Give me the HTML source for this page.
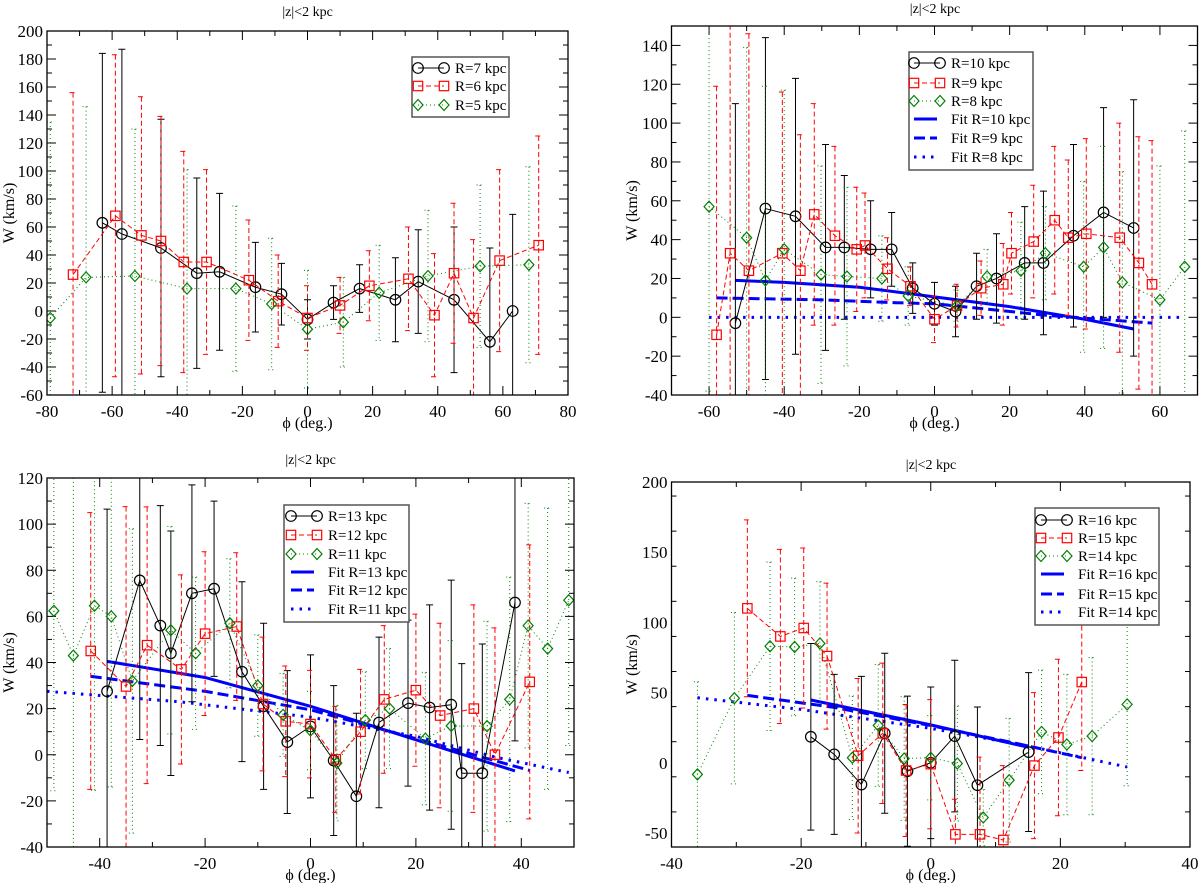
<!DOCTYPE html>
<html><head><meta charset="utf-8"><style>
body{margin:0;background:#fff;}
svg{display:block;font-family:"Liberation Serif",serif;}
</style></head><body>
<svg id="chart" width="1200" height="883" xmlns="http://www.w3.org/2000/svg"></svg>
<script>
// ---------- Panel 1 data ----------
const p1_r7_phi=[-63,-57,-45,-34,-27,-16,-8,0,8,16,27,34,45,56,63];
const p1_r7_w=[63,55,45,27,28,17,12,-6,6,16,8,21,8,-22,0];
const p1_r7_err=[121,132,92,68,56,32,22,14,12,17,30,37,52,67,69];
const p1_r6_phi=[-72,-59,-51,-45,-38,-31,-18,-9,0,10,19,31,39,45,51,59,71];
const p1_r6_w=[26,68,54,50,35,35,22,7,-5,4,18,23,-3,27,-5,36,47];
const p1_r6_err=[130,115,99,89,79,66,43,33,23,20,25,37,44,50,56,65,78];
const p1_r5_phi=[-79,-68,-53,-37,-22,-11,0,11,22,37,53,68];
const p1_r5_w=[-5,24,25,16,16,5,-13,-8,13,25,32,33];
const p1_r5_err=[140,122,105,85,59,47,42,32,34,47,58,70];
// ---------- Panel 2 data ----------
const p2_r10_phi=[-53,-45,-37,-29,-24,-17,-11.4,-5.8,0,5.6,11.2,16.5,24,29,37,45,53];
const p2_r10_w=[-3,56,52,36,36,35,35,15,7,3,16,20,28,28,42,54,46];
const p2_r10_err=[113,88,71,53,37,25,19,13,11,13,17,23,29,37,47,54,66];
const p2_r9_phi=[-58,-54.4,-49.4,-40.5,-35.7,-32,-26.5,-20.7,-18.5,-12.5,-6.4,0,6,12.4,18.3,20.5,26.4,32,35.6,40.4,49.3,54.4,57.9];
const p2_r9_w=[-9,33,24,33,24,53,42,35,37,25,16,-1,6,15,17,33,39,50,41,43,41,28,17];
const p2_r9_err=[128,130,122,83,70,57,46,32,27,16,10,12,11,14,21,21,29,38,40,49,59,65,74];
const p2_r8_phi=[-60,-50,-45,-40,-30.2,-23.3,-14,-7,6,14,23,29.5,39.7,45,50,60,66.6];
const p2_r8_w=[57,41,19,35,22,21,20,11,6,21,24,33,26,36,18,9,26];
const p2_r8_err=[95,98,100,82,56,46,22,15,8,14,25,24,44,52,57,69,70];
const p2_fit10_phi=[-53,-40,-20,0,20,40,53];
const p2_fit10_w=[19,18,15.5,10.5,5.5,-1,-6];
const p2_fit9_phi=[-58,-30,-10,0,30,58];
const p2_fit9_w=[10,9,7.5,7,1,-3];
const p2_fit8_phi=[-60,66];
const p2_fit8_w=[0,0];
// ---------- Panel 3 data ----------
const p3_r13_phi=[-38.6,-32.4,-28.5,-26.5,-22.5,-18.3,-13,-8.9,-4.4,0,4.4,8.7,13,18.5,22.6,26.7,28.7,32.6,38.8];
const p3_r13_w=[27.5,75.6,56,44,70,72,36,21,5.5,12.3,-2.5,-18,14,22.4,20.5,21.7,-8,-8,66];
const p3_r13_err=[79,69,52,53,47,38,39,36,31,31,32.5,36,37,36,44.5,54,47.5,56,60];
const p3_r12_phi=[-41.7,-35,-31,-24.5,-20,-14,-9,-4.7,0,4.8,9.5,14,20,24.6,31,35,41.6];
const p3_r12_w=[45,29.6,47.5,37,52.5,55.6,22,14.5,13.3,-2,10,24,28,17,20,0,31.6];
const p3_r12_err=[60,78,60,41,35.5,32,29,24,23.3,23,27,32,33,40,45,55,59.4];
const p3_r11_phi=[-48.7,-45,-41,-37.8,-33.8,-26.5,-21.8,-15.3,-10,-5.2,0,5,10.4,15,21.8,26.7,33.5,37.8,41.3,45,49];
const p3_r11_w=[62.4,43,64.6,60,32,54,44,57,30,17.3,10.5,-3.6,15,20,7,12.5,12.4,24,56,46,67];
const p3_r11_err=[78,84,80,74,66,45,33,28,22,18,17,25,21,26,28.7,37,45.5,53,53,61,63];
const p3_fit13_phi=[-38.6,-20,0,20,38.8];
const p3_fit13_w=[40.5,33.5,21,6.5,-7];
const p3_fit12_phi=[-41.7,-20,0,20,41.6];
const p3_fit12_w=[34,27.5,19.5,7,-6.8];
const p3_fit11_phi=[-50,-25,0,20,35,49];
const p3_fit11_w=[27.5,23,16.3,8,-1,-7.7];
// ---------- Panel 4 data ----------
const p4_r16_phi=[-18.5,-14.9,-10.7,-7.1,-3.6,0,3.7,7.2,15.1];
const p4_r16_w=[18.5,6,-15.5,21,-6,0,19,-16,7.6];
const p4_r16_err=[66.5,57,77,57,53.5,54,54,55.7,56.6];
const p4_r15_phi=[-28.3,-23.2,-19.6,-16,-11.2,-7.4,-3.8,0,3.8,7.6,11.2,16,19.7,23.3];
const p4_r15_w=[110,90,96,76,5,21,-5.5,-1,-51,-51,-55,-2,18,57.5];
const p4_r15_err=[63,62,57,52,55,50,47,46,25,55,53,52,55.7,63];
const p4_r14_phi=[-36,-30.3,-24.8,-21,-17.1,-12.1,-8.1,-4.1,0,4.1,8.1,12.1,17.1,21,24.9,30.3];
const p4_r14_w=[-8.3,46,83,82.5,85,3.6,26.6,3,3.6,-0.5,-39,-12.4,22,13,19,41.6];
const p4_r14_err=[66,61,60,49,44,44,43.4,44,30,41,20,44,44,50,56,58];
const p4_fit16_phi=[-18.5,0,15.1];
const p4_fit16_w=[44.7,27,11];
const p4_fit15_phi=[-28.3,-15,0,12,23.3];
const p4_fit15_w=[48,39.5,26.5,15,3.6];
const p4_fit14_phi=[-36,-20,0,15,30.3];
const p4_fit14_w=[46.3,38,24.5,12,-3];
// ---------- tick labels ----------
const p1_xticks=[-80,-60,-40,-20,0,20,40,60,80];
const p1_yticks=[-60,-40,-20,0,20,40,60,80,100,120,140,160,180,200];
const p2_xticks=[-60,-40,-20,0,20,40,60];
const p2_yticks=[-40,-20,0,20,40,60,80,100,120,140];
const p3_xticks=[-40,-20,0,20,40];
const p3_yticks=[-40,-20,0,20,40,60,80,100,120];
const p4_xticks=[-40,-20,0,20,40];
const p4_yticks=[-50,0,50,100,150,200];

const NS="http://www.w3.org/2000/svg";
const svg=document.getElementById('chart');
function mk(tag,attrs,parent){const e=document.createElementNS(NS,tag);for(const k in attrs)e.setAttribute(k,attrs[k]);(parent||svg).appendChild(e);return e;}

const styles={
 black:{color:'#000',dash:'',marker:'circle'},
 red:{color:'#ff0000',dash:'5,3',marker:'square'},
 green:{color:'#008000',dash:'1,3',marker:'diamond'}
};
const fitDash={solid:'',dashed:'11,5',dotted:'2.5,6'};

function panel(cfg){
 const g=mk('g',{});
 
 
 const sx=v=>cfg.L+(v-cfg.x0)/(cfg.x1-cfg.x0)*(cfg.R-cfg.L);
 const sy=v=>cfg.B-(v-cfg.y0)/(cfg.y1-cfg.y0)*(cfg.B-cfg.T);
 const cid='clip-'+cfg.name;
 const cp=mk('clipPath',{id:cid},g);mk('rect',{x:cfg.L,y:cfg.T,width:cfg.R-cfg.L,height:cfg.B-cfg.T},cp);
 // ticks
 const tg=mk('g',{stroke:'#000','stroke-width':1},g);
 for(let v=cfg.x0;v<=cfg.x1+1e-6;v+=cfg.xminor){const x=sx(v);const maj=Math.abs(((v-cfg.xmajBase)%cfg.xmaj+cfg.xmaj)%cfg.xmaj)<1e-6;const l=maj?9:5;
  mk('line',{x1:x,x2:x,y1:cfg.B,y2:cfg.B-l},tg);mk('line',{x1:x,x2:x,y1:cfg.T,y2:cfg.T+l},tg);}
 for(let v=cfg.y0;v<=cfg.y1+1e-6;v+=cfg.yminor){const y=sy(v);const maj=Math.abs(((v-cfg.ymajBase)%cfg.ymaj+cfg.ymaj)%cfg.ymaj)<1e-6;const l=maj?9:5;
  mk('line',{x1:cfg.L,x2:cfg.L+l,y1:y,y2:y},tg);mk('line',{x1:cfg.R,x2:cfg.R-l,y1:y,y2:y},tg);}
 cfg.xticks.forEach(v=>{const t=mk('text',{x:sx(v),y:cfg.B+22,'text-anchor':'middle','font-size':17},g);t.textContent=v;
  
  });
 cfg.yticks.forEach(v=>{const t=mk('text',{x:cfg.L-4,y:sy(v)+6,'text-anchor':'end','font-size':17},g);t.textContent=v;
  
  });
 const tt=mk('text',{x:cfg.tx,y:cfg.ty,'text-anchor':'middle','font-size':14},g);tt.textContent='|z|<2 kpc';
 
 
 const xl=mk('text',{x:(cfg.L+cfg.R)/2,y:cfg.B+33,'text-anchor':'middle','font-size':16},g);xl.textContent='ϕ (deg.)';
 
 
 const yl=mk('text',{x:0,y:0,'text-anchor':'middle','font-size':16,transform:`translate(${cfg.yl},${(cfg.T+cfg.B)/2}) rotate(-90)`},g);yl.textContent='W (km/s)';
 
 
 const pg=mk('g',{'clip-path':`url(#${cid})`},g);
 // fits
 cfg.fits.forEach(f=>{let d='';f.phi.forEach((p,i)=>{d+=(i?'L':'M')+sx(p)+','+sy(f.w[i]);});
  const pl=mk('path',{d:d,fill:'none',stroke:'#0000ff','stroke-width':3,'stroke-dasharray':fitDash[f.style]},pg);
  
  });
 // series
 cfg.series.forEach(s=>{const st=styles[s.style];const sg=mk('g',{},pg);
  
  
  s.phi.forEach((p,i)=>{const x=sx(p),yt=sy(s.w[i]+s.err[i]),yb=sy(s.w[i]-s.err[i]);
   const eb=mk('path',{d:`M${x},${yt}L${x},${yb}M${x-3.5},${yt}L${x+3.5},${yt}M${x-3.5},${yb}L${x+3.5},${yb}`,stroke:st.color,'stroke-width':1,fill:'none','stroke-dasharray':st.dash},sg);
   
   });
  let d='';s.phi.forEach((p,i)=>{d+=(i?'L':'M')+sx(p)+','+sy(s.w[i]);});
  mk('path',{d:d,fill:'none',stroke:st.color,'stroke-width':1,'stroke-dasharray':st.dash},sg);
  s.phi.forEach((p,i)=>{const m=marker(st,sx(p),sy(s.w[i]),sg);
   
   });
 });
 mk('rect',{x:cfg.L,y:cfg.T,width:cfg.R-cfg.L,height:cfg.B-cfg.T,fill:'none',stroke:'#000','stroke-width':1.3},g);
 // legend
 const lg=mk('g',{},g);
 
 
 mk('rect',{x:cfg.lx,y:cfg.ly,width:cfg.lw,height:cfg.lh,fill:'#fff',stroke:'#555','stroke-width':1.5},lg);
 const items=cfg.series.map(s=>({t:s.label,s:s.style})).concat(cfg.fits.map(f=>({t:f.label,f:f.style})));
 items.forEach((it,i)=>{const y=cfg.rows[i];const x0=cfg.sx0,x1=cfg.sx0+26;
  const e=mk('g',{},lg);
  
  
  if(it.s){const st=styles[it.s];mk('line',{x1:x0,x2:x1,y1:y,y2:y,stroke:st.color,'stroke-dasharray':st.dash},e);marker(st,x0,y,e);marker(st,x1,y,e);}
  else mk('line',{x1:x0,x2:x1-3,y1:y,y2:y,stroke:'#0000ff','stroke-width':3,'stroke-dasharray':fitDash[it.f]},e);
  const t=mk('text',{x:cfg.sx0+37,y:y+5,'font-size':15},e);t.textContent=it.t;});
}
function marker(st,x,y,p){
 if(st.marker==='circle')return mk('circle',{cx:x,cy:y,r:5.3,fill:'none',stroke:st.color,'stroke-width':1.2},p);
 if(st.marker==='square')return mk('rect',{x:x-4.7,y:y-4.7,width:9.4,height:9.4,fill:'none',stroke:st.color,'stroke-width':1.2},p);
 return mk('path',{d:`M${x},${y-5.5}L${x+5},${y}L${x},${y+5.5}L${x-5},${y}Z`,fill:'none',stroke:st.color,'stroke-width':1.2},p);
}

panel({name:'panel-r5-7',L:47,R:568,T:31,B:395,x0:-80,x1:80,y0:-60,y1:200,xminor:10,xmaj:20,xmajBase:0,yminor:10,ymaj:20,ymajBase:0,
 xticks:p1_xticks,yticks:p1_yticks,tx:307.6,ty:16,yl:14,
 series:[{label:'R=7 kpc',style:'black',phi:p1_r7_phi,w:p1_r7_w,err:p1_r7_err},
  {label:'R=6 kpc',style:'red',phi:p1_r6_phi,w:p1_r6_w,err:p1_r6_err},
  {label:'R=5 kpc',style:'green',phi:p1_r5_phi,w:p1_r5_w,err:p1_r5_err}],fits:[],
 lx:412,ly:57,lw:97,lh:60,rows:[68,86,105],sx0:418});
panel({name:'panel-r8-10',L:671.5,R:1197.5,T:26,B:395,x0:-70,x1:70,y0:-40,y1:150,xminor:10,xmaj:20,xmajBase:0,yminor:10,ymaj:20,ymajBase:0,
 xticks:p2_xticks,yticks:p2_yticks,tx:935,ty:13,yl:637,
 series:[{label:'R=10 kpc',style:'black',phi:p2_r10_phi,w:p2_r10_w,err:p2_r10_err},
  {label:'R=9 kpc',style:'red',phi:p2_r9_phi,w:p2_r9_w,err:p2_r9_err},
  {label:'R=8 kpc',style:'green',phi:p2_r8_phi,w:p2_r8_w,err:p2_r8_err}],
 fits:[{label:'Fit R=10 kpc',style:'solid',phi:p2_fit10_phi,w:p2_fit10_w},
  {label:'Fit R=9 kpc',style:'dashed',phi:p2_fit9_phi,w:p2_fit9_w},
  {label:'Fit R=8 kpc',style:'dotted',phi:p2_fit8_phi,w:p2_fit8_w}],
 lx:909,ly:52,lw:124,lh:118,rows:[63,83,101,119,138,157],sx0:914});
panel({name:'panel-r11-13',L:47,R:574,T:478,B:847,x0:-50,x1:50,y0:-40,y1:120,xminor:10,xmaj:20,xmajBase:0,yminor:10,ymaj:20,ymajBase:0,
 xticks:p3_xticks,yticks:p3_yticks,tx:310.6,ty:464,yl:14,
 series:[{label:'R=13 kpc',style:'black',phi:p3_r13_phi,w:p3_r13_w,err:p3_r13_err},
  {label:'R=12 kpc',style:'red',phi:p3_r12_phi,w:p3_r12_w,err:p3_r12_err},
  {label:'R=11 kpc',style:'green',phi:p3_r11_phi,w:p3_r11_w,err:p3_r11_err}],
 fits:[{label:'Fit R=13 kpc',style:'solid',phi:p3_fit13_phi,w:p3_fit13_w},
  {label:'Fit R=12 kpc',style:'dashed',phi:p3_fit12_phi,w:p3_fit12_w},
  {label:'Fit R=11 kpc',style:'dotted',phi:p3_fit11_phi,w:p3_fit11_w}],
 lx:284,ly:505,lw:125,lh:117,rows:[516,535,554,572,590,609],sx0:291});
panel({name:'panel-r14-16',L:671.5,R:1190,T:482,B:847,x0:-40,x1:40,y0:-60,y1:200,xminor:10,xmaj:20,xmajBase:0,yminor:25,ymaj:50,ymajBase:0,
 xticks:p4_xticks,yticks:p4_yticks,tx:931,ty:469,yl:637,
 series:[{label:'R=16 kpc',style:'black',phi:p4_r16_phi,w:p4_r16_w,err:p4_r16_err},
  {label:'R=15 kpc',style:'red',phi:p4_r15_phi,w:p4_r15_w,err:p4_r15_err},
  {label:'R=14 kpc',style:'green',phi:p4_r14_phi,w:p4_r14_w,err:p4_r14_err}],
 fits:[{label:'Fit R=16 kpc',style:'solid',phi:p4_fit16_phi,w:p4_fit16_w},
  {label:'Fit R=15 kpc',style:'dashed',phi:p4_fit15_phi,w:p4_fit15_w},
  {label:'Fit R=14 kpc',style:'dotted',phi:p4_fit14_phi,w:p4_fit14_w}],
 lx:1035,ly:508,lw:124,lh:117,rows:[520,538,556,574,594,612],sx0:1041});
</script>
</body></html>
